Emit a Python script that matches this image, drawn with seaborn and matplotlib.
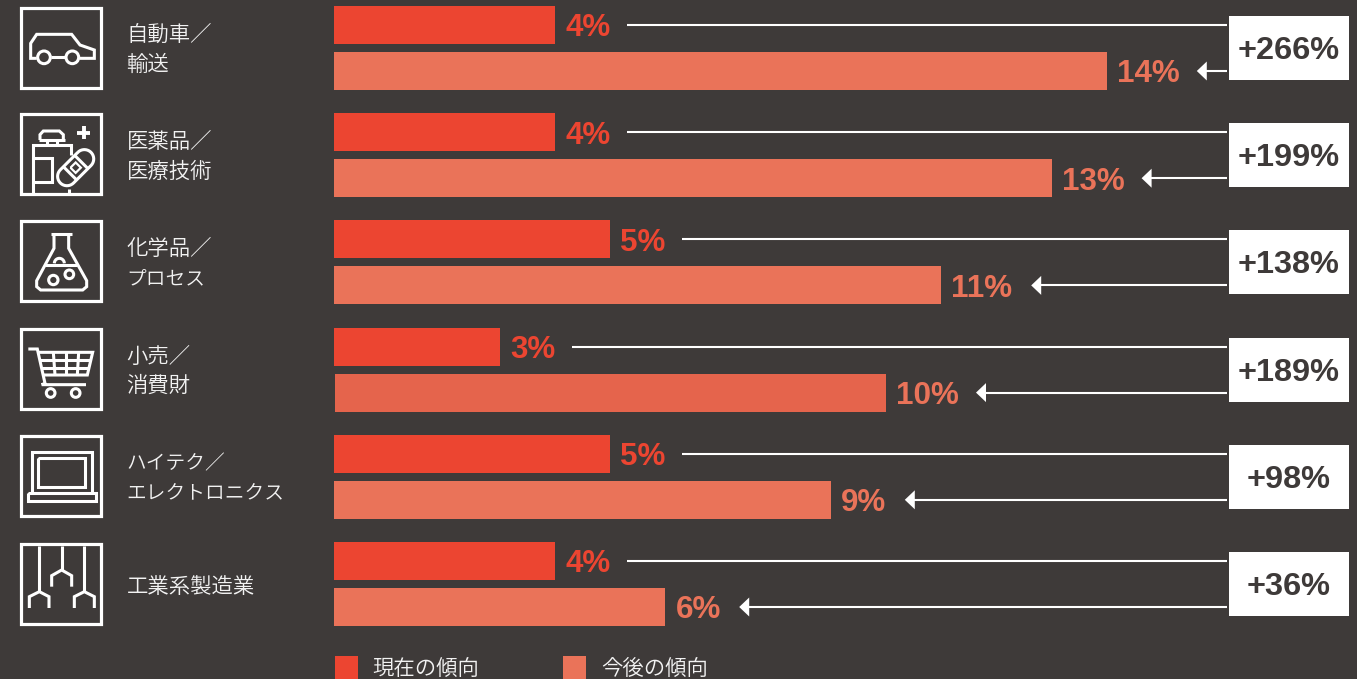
import numpy as np
import pandas as pd
import matplotlib
matplotlib.use("Agg")
import matplotlib.pyplot as plt
from matplotlib.patches import Rectangle, Circle, Polygon
import seaborn as sns

# Survey figures by sector
sectors = ["自動車／\n輸送", "医薬品／\n医療技術", "化学品／\nプロセス",
           "小売／\n消費財", "ハイテク／\nエレクトロニクス", "工業系製造業"]
current_share = [4, 4, 5, 3, 5, 4]
future_share = [14, 13, 11, 10, 9, 6]
growth_pct = [266, 199, 138, 189, 98, 36]
period_names = ["現在の傾向", "今後の傾向"]

BG = "#3e3a39"
RED = "#ec4531"
SALMON = "#ea7359"
TEXT = "#f2f2f2"
WHITE = "#ffffff"
CJK = ["Noto Sans CJK JP", "DejaVu Sans"]
LATIN = "Liberation Sans"
KANA = set("ハイテクエレトロニスプセ")

W, H = 1357, 679
sns.set_theme(style="white")
fig = plt.figure(figsize=(W / 100, H / 100), dpi=100, facecolor=BG)

# Data axes span the whole canvas so that one share point is a fixed pixel run
ax = fig.add_axes([0, 0, 1, 1])
PX_X = 1 / 55.2      # data units per pixel, horizontal
PX_Y = 1 / 107.2     # data units per pixel, vertical

frame = pd.DataFrame({
    "sector": sectors * 2,
    "share": current_share + future_share,
    "period": [period_names[0]] * len(sectors) + [period_names[1]] * len(sectors),
})
sns.barplot(data=frame, y="sector", x="share", hue="period", orient="h",
            palette=[RED, SALMON], width=92 * PX_Y, gap=1 - 38 / 46,
            saturation=1, legend=False, linewidth=0, edgecolor="none", ax=ax)
ax.set_xlim(-334 * PX_X, (W - 334) * PX_X)
ax.set_ylim((H - 48) * PX_Y, -48 * PX_Y)
ax.set_axis_off()

# Slightly deeper tone used on the retail bar
ax.containers[1][3].set_facecolor("#e5644c")
ax.containers[1][3].set_x(1 * PX_X)
ax.containers[1][3].set_width(future_share[3] - 1 * PX_X)


def bar_mid(bar):
    return bar.get_y() + bar.get_height() / 2


def value_label(value, y, color):
    ax.annotate(f"{value}%", xy=(value, y), xytext=(7.4, -2.4), textcoords="offset points",
                color=color, fontsize=22.6, fontweight="bold", family=LATIN,
                va="center", ha="left")


def name_size(line):
    # Katakana runs set tighter than kanji in this label style
    return 14.2 if sum(ch in KANA for ch in line) >= 3 else 15.4


BOX_L, BOX_R = 1229 - 334, 1349 - 334
LINE_END = (1227 - 334) * PX_X

for i, sector in enumerate(sectors):
    now, later = current_share[i], future_share[i]
    y_now = bar_mid(ax.containers[0][i])
    y_later = bar_mid(ax.containers[1][i])

    value_label(now, y_now, RED)
    value_label(later, y_later, SALMON)

    # Connector from the current label to the growth box
    ax.plot([now + 72 * PX_X, LINE_END], [y_now, y_now], color=WHITE, lw=1.5,
            solid_capstyle="butt")
    # Arrow from the growth box back to the future label
    tip = later + (74 if later < 10 else 90) * PX_X
    ax.plot([tip + 8 * PX_X, LINE_END], [y_later, y_later], color=WHITE, lw=1.5,
            solid_capstyle="butt")
    ax.add_patch(Polygon([[tip, y_later],
                          [tip + 10 * PX_X, y_later - 9.5 * PX_Y],
                          [tip + 10 * PX_X, y_later + 9.5 * PX_Y]],
                         closed=True, fc=WHITE, ec="none", zorder=3))

    # Growth box
    ax.add_patch(Rectangle((BOX_L * PX_X, i - 32 * PX_Y), (BOX_R - BOX_L) * PX_X, 64 * PX_Y,
                           fc=WHITE, ec="none", zorder=3))
    ax.annotate(f"+{growth_pct[i]}%", xy=((BOX_L + BOX_R) / 2 * PX_X, i),
                xytext=(0, -2.2), textcoords="offset points", color=BG, fontsize=23.4,
                fontweight="bold", family=LATIN, ha="center", va="center", zorder=4)

    # Sector name, left of the bars
    lines = sector.split("\n")
    offsets = [-13, 16.5] if len(lines) == 2 else [2.5]
    for line, dy in zip(lines, offsets):
        ax.text((126.5 - 334) * PX_X, i + dy * PX_Y, line, color=TEXT, fontsize=name_size(line),
                family=CJK, fontweight=350, ha="left", va="center")

# Key below the chart
for name, color, box_x, label_x in zip(period_names, [RED, SALMON], [335, 563], [372, 601]):
    ax.add_patch(Rectangle(((box_x - 334) * PX_X, (656 - 48) * PX_Y), 23 * PX_X, 26 * PX_Y,
                           fc=color, ec="none"))
    ax.text((label_x - 334) * PX_X, (669 - 48) * PX_Y, name, color=TEXT, fontsize=15.4,
            family=CJK, fontweight=350, ha="left", va="center")

# Sector pictograms are line art on a pixel-scaled overlay
art = fig.add_axes([0, 0, 1, 1], facecolor="none")
art.set_xlim(0, W)
art.set_ylim(H, 0)
art.set_axis_off()
LW = 2.2


def icon_frame(top):
    art.add_patch(Rectangle((21.2, top + 1), 80, 80.2, fc="none", ec=WHITE, lw=2.3,
                            joinstyle="miter"))


def stroke(points, oy, lw=LW, closed=False):
    # points are given at triple scale relative to the crop origin oy
    pts = np.array(points, dtype=float) / 3
    pts[:, 1] += oy
    if closed:
        pts = np.vstack([pts, pts[0]])
    art.plot(pts[:, 0], pts[:, 1], color=WHITE, lw=lw, solid_joinstyle="miter",
             solid_capstyle="butt")


def ring(cx, cy, r, oy, lw=LW):
    art.add_patch(Circle((cx / 3, cy / 3 + oy), r / 3, fc="none", ec=WHITE, lw=lw))


for top in [6.5, 113, 220, 328, 435, 543]:
    icon_frame(top)

# Car
stroke([(110, 175), (92, 175), (92, 130), (110, 103), (215, 103), (240, 135), (283, 150),
        (283, 175), (238, 175)], 0)
stroke([(152, 172), (197, 172)], 0)
ring(132, 172, 19, 0)
ring(217, 172, 19, 0)

# Medicine bottle and plaster
stroke([(232, 398), (270, 398)], 0, lw=2.8)
stroke([(251, 379), (251, 417)], 0, lw=2.8)
stroke([(120, 420), (120, 404), (130, 393), (178, 393), (190, 404), (190, 420)], 0)
stroke([(116, 420), (194, 420)], 0)
stroke([(140, 420), (140, 434)], 0)
stroke([(170, 420), (170, 434)], 0)
stroke([(100, 585), (100, 434), (212, 434), (212, 465)], 0)
stroke([(100, 475), (155, 475), (155, 547), (100, 547)], 0)
stroke([(207, 568), (207, 585)], 0)
cap_angles = np.concatenate([np.linspace(-np.pi / 2, np.pi / 2, 20),
                             np.linspace(np.pi / 2, 3 * np.pi / 2, 20)])
half_run, radius = 37, 28
local_x = radius * np.cos(cap_angles) + np.where(np.arange(40) < 20, half_run, -half_run)
local_y = radius * np.sin(cap_angles)
rot = np.deg2rad(-45)


def plaster(lx, ly):
    lx, ly = np.asarray(lx, float), np.asarray(ly, float)
    return np.column_stack([227 + lx * np.cos(rot) - ly * np.sin(rot),
                            503 + lx * np.sin(rot) + ly * np.cos(rot)])


stroke(plaster(local_x, local_y), 0, closed=True)
stroke(plaster([-24, -24], [-28, 28]), 0)
stroke(plaster([24, 24], [-28, 28]), 0)
stroke(plaster([-11, 11, 11, -11], [-11, -11, 11, 11]), 0, lw=1.6, closed=True)

# Flask
stroke([(152, 703), (216, 703)], 0)
stroke([(162, 703), (162, 745), (110, 842), (110, 860), (122, 870), (248, 870), (260, 860),
        (260, 842), (206, 745), (206, 703)], 0)
stroke([(136, 796), (232, 796)], 0)
arc = np.linspace(np.pi, 2 * np.pi, 16)
stroke(np.column_stack([178 + 15 * np.cos(arc), 790 + 15 * np.sin(arc)]), 0)
ring(160, 840, 14, 0)
ring(208, 823, 13, 0)

# Shopping cart (lower row uses its own origin)
OY = 320
stroke([(85, 87), (112, 87), (135, 190), (125, 194), (258, 194)], OY)
stroke([(115, 97), (278, 97), (262, 165), (131, 165)], OY)
stroke([(120, 120), (272, 120)], OY, lw=2.2)
stroke([(126, 143), (267, 143)], OY, lw=2.2)
for top_x, bottom_x in [(160, 165), (198, 198), (236, 232)]:
    stroke([(top_x, 97), (bottom_x, 165)], OY, lw=2.2)
ring(152, 219, 13, OY)
ring(227, 219, 13, OY)

# Laptop
stroke([(95, 515), (95, 397), (275, 397), (275, 515)], OY)
stroke([(113, 413), (255, 413), (255, 500), (113, 500)], OY, closed=True)
stroke([(83, 520), (287, 520), (287, 543), (83, 543)], OY, closed=True)

# Robot arms
stroke([(118, 678), (118, 815)], OY)
stroke([(185, 678), (185, 750)], OY)
stroke([(253, 678), (253, 815)], OY)
stroke([(88, 864), (88, 830), (118, 815), (147, 830), (147, 864)], OY)
stroke([(155, 800), (155, 767), (185, 750), (215, 767), (215, 800)], OY)
stroke([(223, 864), (223, 830), (253, 815), (283, 830), (283, 864)], OY)

fig.savefig("out.png", dpi=100, facecolor=BG)
